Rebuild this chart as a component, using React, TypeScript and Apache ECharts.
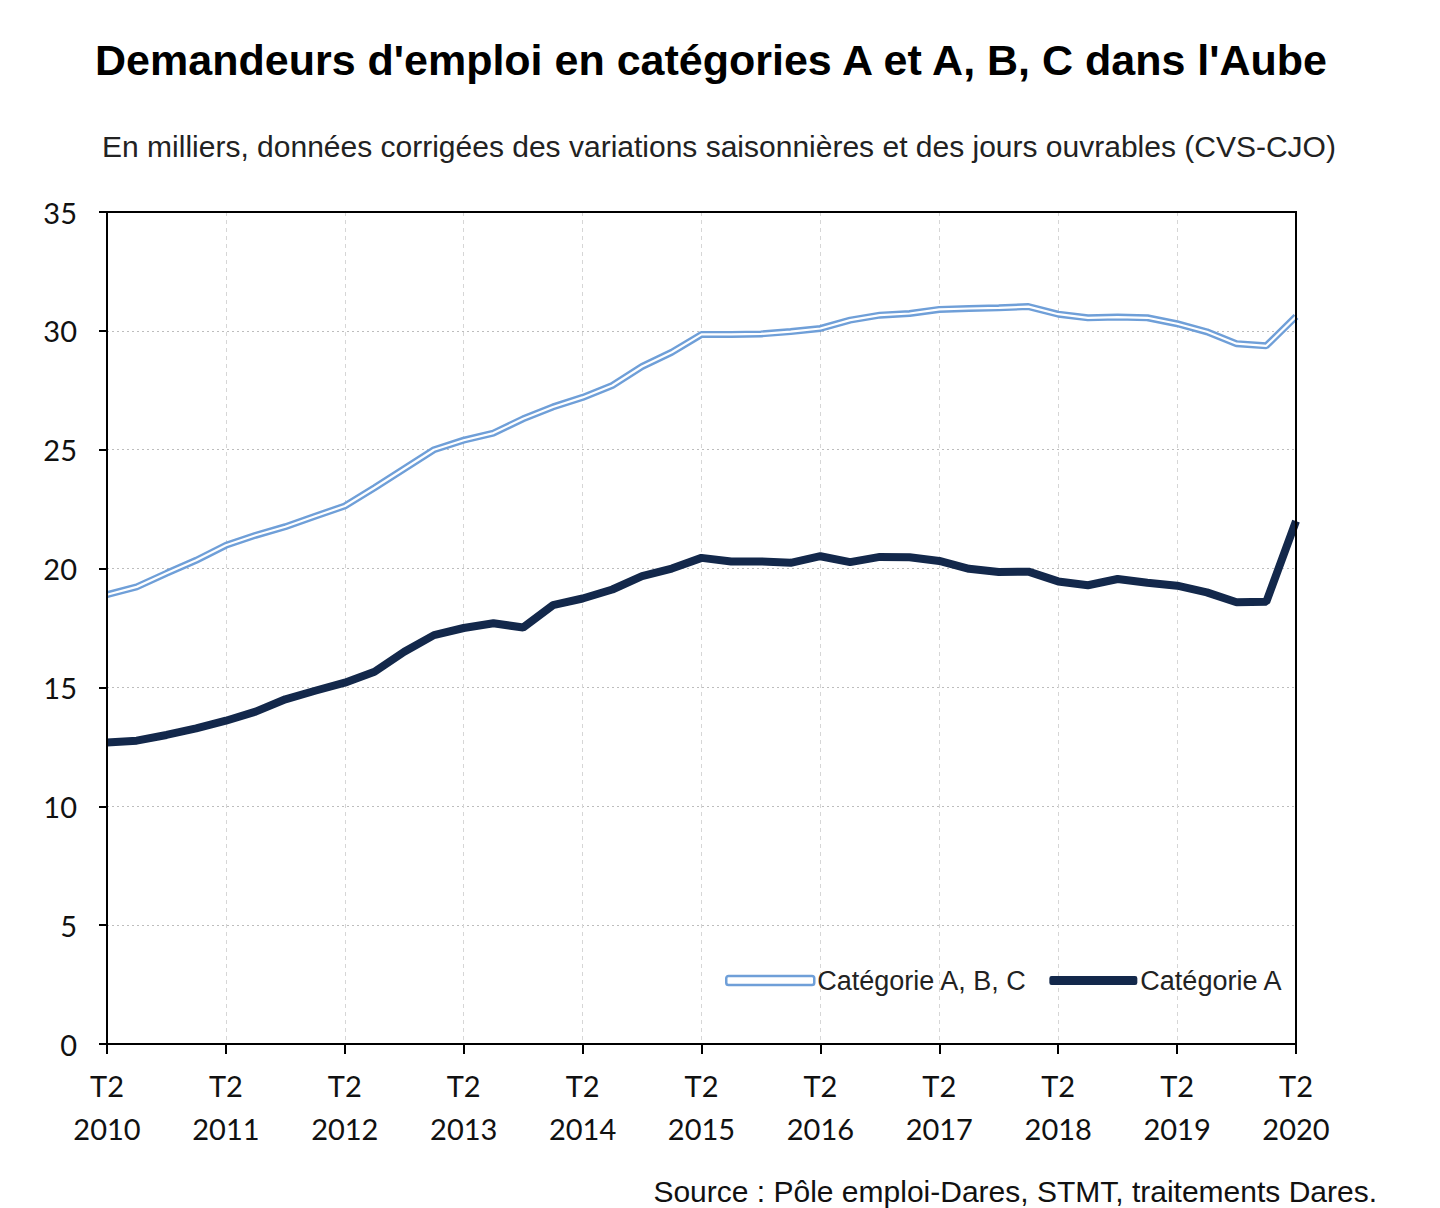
import React, { useEffect, useRef } from "react";
import * as echarts from "echarts";

const quarters: string[] = [];
(() => {
  const qs = ["T2", "T3", "T4", "T1"];
  for (let i = 0; i < 41; i++) {
    const q = qs[i % 4];
    const y = 2010 + Math.floor((i + 1) / 4);
    quarters.push(q + " " + (q === "T1" ? y : 2010 + Math.floor(i / 4)));
  }
})();

const catABC: number[] = [
  18.9, 19.23, 19.8, 20.35, 20.98, 21.4, 21.76, 22.2, 22.63, 23.4,
  24.2, 25.0, 25.4, 25.7, 26.3, 26.8, 27.2, 27.7, 28.5, 29.1,
  29.85, 29.85, 29.87, 29.97, 30.1, 30.45, 30.66, 30.73, 30.9, 30.94,
  30.97, 31.02, 30.7, 30.55, 30.58, 30.55, 30.3, 29.96, 29.46, 29.37,
  30.6,
];

const catA: number[] = [
  12.68, 12.76, 13.0, 13.28, 13.6, 13.98, 14.5, 14.86, 15.2, 15.66,
  16.5, 17.2, 17.5, 17.7, 17.52, 18.46, 18.74, 19.12, 19.68, 20.0,
  20.45, 20.3, 20.3, 20.24, 20.52, 20.27, 20.49, 20.48, 20.32, 19.99,
  19.86, 19.87, 19.46, 19.3, 19.56, 19.4, 19.28, 19.0, 18.58, 18.6,
  22.0,
];

const yTicks = { min: 0, max: 35, interval: 5 };

const TITLE = "Demandeurs d'emploi en catégories A et A, B, C dans l'Aube";
const SUBTITLE =
  "En milliers, données corrigées des variations saisonnières et des jours ouvrables (CVS-CJO)";
const SOURCE = "Source : Pôle emploi-Dares, STMT, traitements Dares.";
const NAME_ABC = "Catégorie A, B, C";
const NAME_A = "Catégorie A";

const BLUE = "#6f9fd8";
const DARK = "#13284b";

export default function App() {
  const ref = useRef<HTMLDivElement>(null);
  useEffect(() => {
    document.body.style.margin = "0";
    const chart = echarts.init(ref.current!, undefined, { renderer: "svg" });
    const labelFont = "Lato, 'Open Sans', sans-serif";
    const arial = "'Liberation Sans', Arial, sans-serif";
    chart.setOption({
      animation: false,
      backgroundColor: "#fff",
      title: [
        {
          text: TITLE,
          left: 706,
          textAlign: "center",
          top: 33,
          textStyle: { fontFamily: arial, fontWeight: "bold", fontSize: 43, color: "#000" },
        },
        {
          text: SUBTITLE,
          left: 714,
          textAlign: "center",
          top: 126,
          textStyle: { fontFamily: arial, fontWeight: "normal", fontSize: 30, color: "#222" },
        },
        {
          text: SOURCE,
          right: 58,
          top: 1170,
          textStyle: { fontFamily: arial, fontWeight: "normal", fontSize: 30, lineHeight: 32, color: "#111" },
        },
      ],
      legend: {
        left: 720,
        top: 962,
        itemWidth: 88,
        itemHeight: 9,
        itemGap: 22,
        textStyle: { fontFamily: arial, fontSize: 27, color: "#222", padding: [0, 0, 0, -2] },
        data: [
          {
            name: NAME_ABC,
            icon: "roundRect",
            itemStyle: { color: "#fff", borderColor: BLUE, borderWidth: 2.5 },
          },
          { name: NAME_A, icon: "roundRect", itemStyle: { color: DARK } },
        ],
      },
      grid: {
        left: 107,
        right: 144,
        top: 212,
        bottom: 164,
        show: true,
        z: 10,
        borderColor: "#000",
        borderWidth: 2,
        backgroundColor: "transparent",
      },
      xAxis: {
        type: "category",
        data: quarters,
        boundaryGap: false,
        axisLine: { show: true, lineStyle: { color: "#000", width: 2 } },
        axisTick: { show: true, interval: 3, length: 10, lineStyle: { color: "#000", width: 2 } },
        axisLabel: {
          interval: 3,
          margin: 20,
          fontFamily: labelFont,
          fontSize: 29,
          lineHeight: 43,
          color: "#111",
          formatter: (v: string) => v.replace(" ", "\n"),
        },
        splitLine: {
          show: true,
          interval: 3,
          lineStyle: { color: "#d6d6d6", type: [4, 4], width: 1 },
        },
      },
      yAxis: {
        type: "value",
        min: yTicks.min,
        max: yTicks.max,
        interval: yTicks.interval,
        axisLine: { show: true, lineStyle: { color: "#000", width: 2 } },
        axisTick: { show: true, length: 8, lineStyle: { color: "#000", width: 2 } },
        axisLabel: { margin: 30, fontFamily: labelFont, fontSize: 29, color: "#111" },
        splitLine: { show: true, lineStyle: { color: "#bdbdbd", type: [2, 3], width: 1 } },
      },
      series: [
        {
          name: NAME_ABC,
          type: "line",
          data: catABC,
          showSymbol: false,
          symbol: "none",
          lineStyle: { color: BLUE, width: 7 },
          itemStyle: { color: BLUE },
          z: 2,
        },
        {
          name: "abc-inner",
          type: "line",
          data: catABC,
          showSymbol: false,
          symbol: "none",
          lineStyle: { color: "#ffffff", width: 2.2 },
          z: 3,
          silent: true,
        },
        {
          name: NAME_A,
          type: "line",
          data: catA,
          showSymbol: false,
          symbol: "none",
          lineStyle: { color: DARK, width: 8 },
          itemStyle: { color: DARK },
          z: 4,
        },
      ],
    });
    return () => chart.dispose();
  }, []);
  return <div ref={ref} style={{ width: 1440, height: 1208 }} />;
}
